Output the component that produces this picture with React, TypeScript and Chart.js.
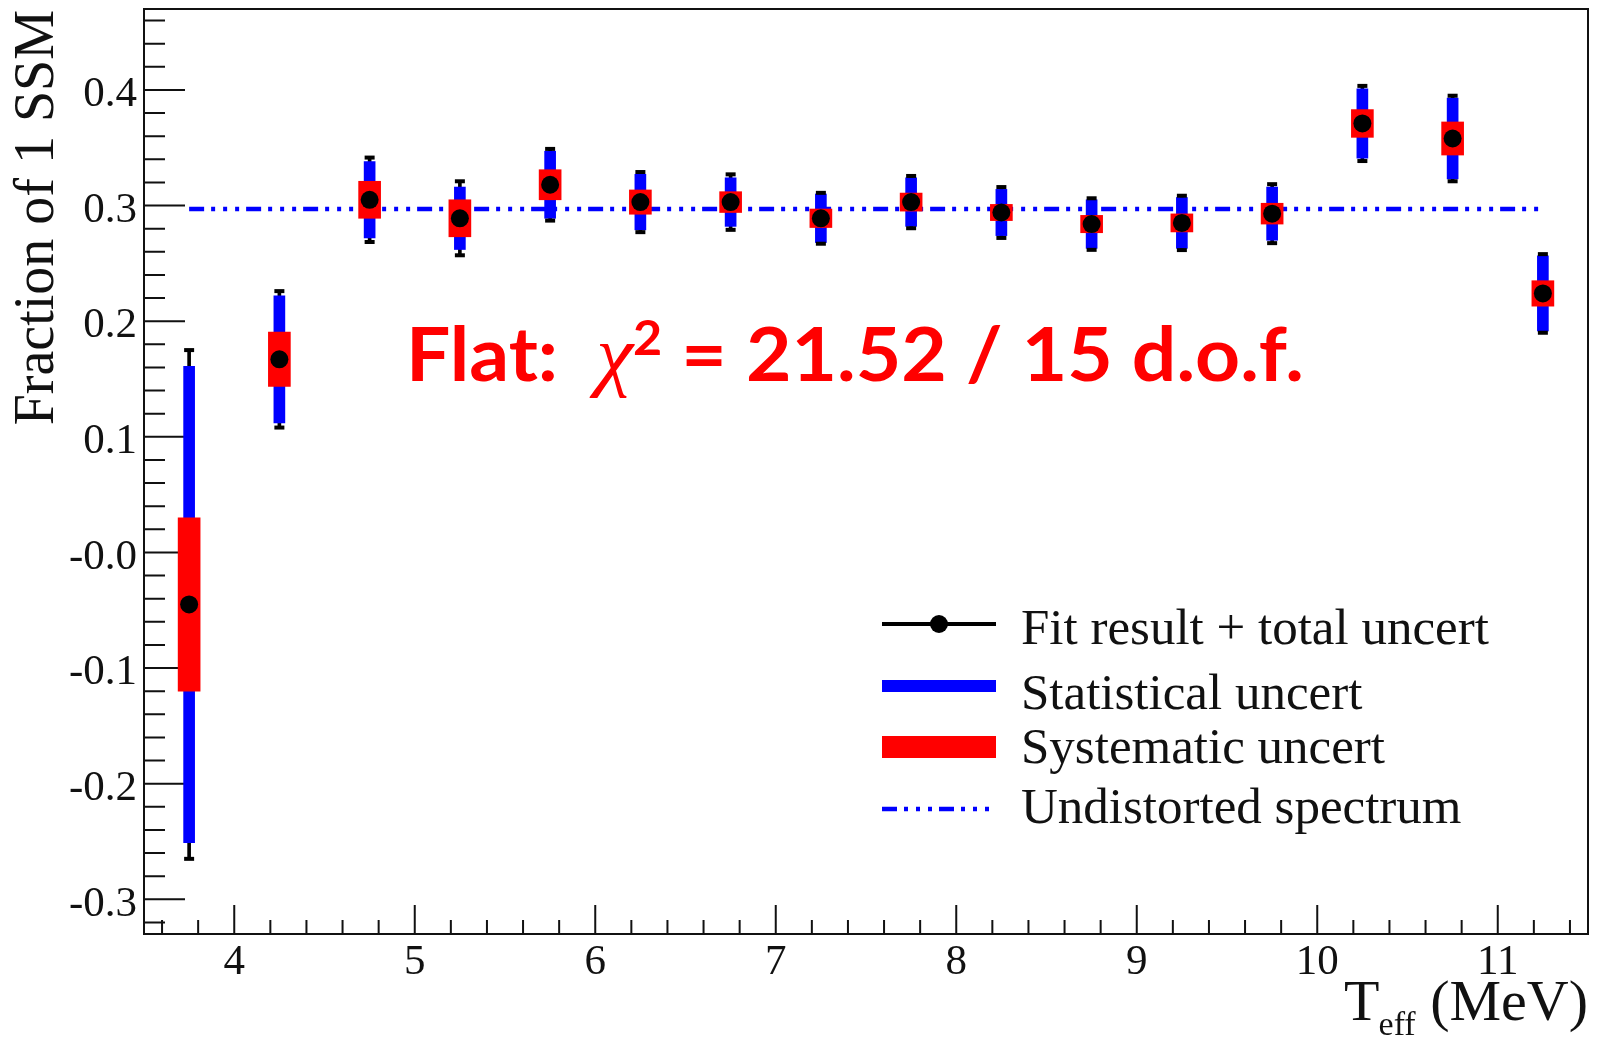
import React, { useEffect, useRef } from "react";
import { Chart, registerables } from "chart.js";

Chart.register(...registerables);

// ---- data ----
const energyBins = [3.75, 4.25, 4.75, 5.25, 5.75, 6.25, 6.75, 7.25, 7.75, 8.25, 8.75, 9.25, 9.75, 10.25, 10.75, 11.25];
const fitResult = [-0.045, 0.167, 0.305, 0.289, 0.318, 0.303, 0.303, 0.289, 0.303, 0.294, 0.284, 0.285, 0.293, 0.371, 0.358, 0.224];
const statUncert = [0.206, 0.055, 0.033, 0.027, 0.029, 0.024, 0.021, 0.021, 0.021, 0.020, 0.021, 0.022, 0.023, 0.030, 0.035, 0.0325];
const sysUncert = [0.075, 0.0235, 0.016, 0.016, 0.013, 0.0105, 0.009, 0.008, 0.0078, 0.007, 0.0075, 0.0078, 0.009, 0.012, 0.0143, 0.011];
const totalUncert = [0.22, 0.059, 0.0365, 0.032, 0.031, 0.026, 0.024, 0.022, 0.0226, 0.022, 0.0223, 0.0235, 0.0255, 0.0325, 0.037, 0.034];
const undistortedLevel = 0.297;
const undistortedRange = [3.75, 11.25];

const xTickValues = [4, 5, 6, 7, 8, 9, 10, 11];
const xTickLabels = ["4", "5", "6", "7", "8", "9", "10", "11"];
const yTickValues = [-0.3, -0.2, -0.1, 0, 0.1, 0.2, 0.3, 0.4];
const yTickLabels = ["-0.3", "-0.2", "-0.1", "-0.0", "0.1", "0.2", "0.3", "0.4"];

const yTitle = "Fraction of 1 SSM";
const xTitleMain = "T";
const xTitleSub = "eff";
const xTitleUnit = "(MeV)";
const legendLabels = ["Fit result + total uncert", "Statistical uncert", "Systematic uncert", "Undistorted spectrum"];
const annotationParts = ["Flat:", "\u03C7", "2", " = 21.52 / 15 d.o.f."];

const BLUE = "#0000ff";
const RED = "#ff0000";
const DASH = [15, 7, 4, 8, 4, 8, 4, 7];
const SERIF = '"Liberation Serif", "Times New Roman", serif';

const framePlugin = {
  id: "rootFrame",
  beforeDatasetsDraw(chart: any) {
    const { ctx, chartArea: a, scales } = chart;
    const x = scales.x;
    const y = scales.y;
    ctx.save();
    ctx.strokeStyle = "#111";
    ctx.lineWidth = 2;
    ctx.beginPath();
    for (let i = -16; i <= 23; i++) {
      const py = y.getPixelForValue(i * 0.02);
      if (py < a.top || py > a.bottom) continue;
      const major = i % 5 === 0;
      ctx.moveTo(a.left, py);
      ctx.lineTo(a.left + (major ? 41 : 21), py);
    }
    for (let i = 18; i <= 57; i++) {
      const px = x.getPixelForValue(i * 0.2);
      if (px < a.left || px > a.right) continue;
      const major = i % 5 === 0;
      ctx.moveTo(px, a.bottom);
      ctx.lineTo(px, a.bottom - (major ? 29 : 14));
    }
    ctx.stroke();
    ctx.strokeRect(a.left, a.top, a.right - a.left, a.bottom - a.top);
    ctx.restore();
  },
  afterDraw(chart: any) {
    const { ctx, chartArea: a } = chart;
    ctx.save();
    ctx.fillStyle = "#111";
    // y title
    ctx.save();
    ctx.font = `56px ${SERIF}`;
    ctx.translate(53, 10);
    ctx.rotate(-Math.PI / 2);
    ctx.textAlign = "right";
    ctx.textBaseline = "alphabetic";
    ctx.fillText(yTitle, 0, 0);
    ctx.restore();

    // x title
    ctx.textBaseline = "alphabetic";
    ctx.textAlign = "left";
    ctx.font = `58px ${SERIF}`;
    const wUnit = ctx.measureText(xTitleUnit).width;
    const xUnit = a.right - wUnit;
    ctx.fillText(xTitleUnit, xUnit, 1020);
    const wSpace = ctx.measureText(" ").width;
    ctx.font = `34px ${SERIF}`;
    const wSub = ctx.measureText(xTitleSub).width;
    const xSub = xUnit - wSpace - wSub;
    ctx.fillText(xTitleSub, xSub, 1035);
    ctx.font = `58px ${SERIF}`;
    const wT = ctx.measureText(xTitleMain).width;
    ctx.fillText(xTitleMain, xSub - wT + 1, 1020);

    // legend
    const symX0 = 882;
    const symX1 = 996;
    const rowY = [624, 686, 747, 809];
    const textY = [644, 709, 763, 823];
    ctx.strokeStyle = "#000";
    ctx.lineWidth = 4;
    ctx.beginPath();
    ctx.moveTo(symX0, rowY[0]);
    ctx.lineTo(symX1, rowY[0]);
    ctx.stroke();
    ctx.fillStyle = "#000";
    ctx.beginPath();
    ctx.arc((symX0 + symX1) / 2, rowY[0], 9, 0, Math.PI * 2);
    ctx.fill();
    ctx.fillStyle = BLUE;
    ctx.fillRect(symX0, rowY[1] - 6, symX1 - symX0, 12);
    ctx.fillStyle = RED;
    ctx.fillRect(symX0, rowY[2] - 11, symX1 - symX0, 22);
    ctx.strokeStyle = BLUE;
    ctx.lineWidth = 4.5;
    ctx.setLineDash(DASH);
    ctx.beginPath();
    ctx.moveTo(symX0, rowY[3]);
    ctx.lineTo(symX1 - 6, rowY[3]);
    ctx.stroke();
    ctx.setLineDash([]);
    ctx.fillStyle = "#111";
    ctx.font = `51px ${SERIF}`;
    legendLabels.forEach((t, i) => ctx.fillText(t, 1021, textY[i]));

    // annotation
    const mainFont = '700 75px Lato, "Open Sans", sans-serif';
    const chiFont = `italic 80px ${SERIF}`;
    const supFont = '700 48px Lato, "Open Sans", sans-serif';
    ctx.font = mainFont;
    const w0 = ctx.measureText(annotationParts[0] + "  ").width;
    const w3 = ctx.measureText(annotationParts[3]).width;
    ctx.font = chiFont;
    const w1 = ctx.measureText(annotationParts[1]).width;
    ctx.font = supFont;
    const w2 = ctx.measureText(annotationParts[2]).width;
    const total = w0 + w1 + w2 + w3;
    const s = (1304 - 406) / total;
    ctx.translate(406, 381);
    ctx.scale(s, 1);
    ctx.fillStyle = RED;
    let cx = 0;
    ctx.font = mainFont;
    ctx.fillText(annotationParts[0], cx, 0);
    cx += w0;
    ctx.font = chiFont;
    ctx.fillText(annotationParts[1], cx, 0);
    cx += w1;
    ctx.font = supFont;
    ctx.fillText(annotationParts[2], cx, -26);
    cx += w2;
    ctx.font = mainFont;
    ctx.fillText(annotationParts[3], cx, 0);
    ctx.restore();
  },
};

export default function App() {
  const canvasRef = useRef<HTMLCanvasElement | null>(null);

  useEffect(() => {
    document.body.style.margin = "0";
    const canvas = canvasRef.current;
    if (!canvas) return;

    const statData = energyBins.map((x, i) => ({ x, y: [fitResult[i] - statUncert[i], fitResult[i] + statUncert[i]] }));
    const sysData = energyBins.map((x, i) => ({ x, y: [fitResult[i] - sysUncert[i], fitResult[i] + sysUncert[i]] }));
    const totData = energyBins.map((x, i) => ({ x, y: [fitResult[i] - totalUncert[i], fitResult[i] + totalUncert[i]] }));
    const capData = [
      ...energyBins.map((x, i) => ({ x, y: fitResult[i] - totalUncert[i] })),
      ...energyBins.map((x, i) => ({ x, y: fitResult[i] + totalUncert[i] })),
    ];
    const pointData = energyBins.map((x, i) => ({ x, y: fitResult[i] }));
    const lineData = undistortedRange.map((x) => ({ x, y: undistortedLevel }));

    const tickFont = { family: SERIF, size: 43 };

    const chart = new Chart(canvas, {
      type: "bar",
      data: {
        datasets: [
          {
            type: "line",
            label: "Undistorted spectrum",
            data: lineData,
            borderColor: BLUE,
            borderWidth: 4.5,
            borderDash: DASH,
            pointRadius: 0,
            fill: false,
            order: 6,
          } as any,
          {
            type: "bar",
            label: "total",
            data: totData,
            backgroundColor: "#000",
            barThickness: 3,
            grouped: false,
            order: 5,
          } as any,
          {
            type: "bar",
            label: "Statistical uncert",
            data: statData,
            backgroundColor: BLUE,
            barThickness: 11,
            grouped: false,
            order: 4,
          } as any,
          {
            type: "bar",
            label: "Systematic uncert",
            data: sysData,
            backgroundColor: RED,
            barThickness: 22,
            grouped: false,
            order: 3,
          } as any,
          {
            type: "scatter",
            label: "caps",
            data: capData,
            pointStyle: "line",
            pointRadius: 5,
            pointBorderColor: "#000",
            pointBorderWidth: 4,
            showLine: false,
            order: 2,
          } as any,
          {
            type: "scatter",
            label: "Fit result",
            data: pointData,
            pointRadius: 9,
            pointBackgroundColor: "#000",
            pointBorderWidth: 0,
            showLine: false,
            order: 1,
          } as any,
        ],
      },
      options: {
        animation: false,
        responsive: false,
        devicePixelRatio: 1,
        events: [],
        layout: { padding: { left: 0, right: 11, top: 9, bottom: 0 } },
        plugins: {
          legend: { display: false },
          tooltip: { enabled: false },
          title: { display: false },
        },
        scales: {
          x: {
            type: "linear",
            min: 3.5,
            max: 11.5,
            offset: false,
            grid: { display: false, drawTicks: false, offset: false },
            border: { display: false },
            afterBuildTicks: (s: any) => {
              s.ticks = xTickValues.map((v) => ({ value: v }));
            },
            afterFit: (s: any) => {
              s.height = 106;
              s.paddingLeft = 0;
              s.paddingRight = 0;
            },
            ticks: {
              autoSkip: false,
              maxRotation: 0,
              minRotation: 0,
              padding: 3,
              color: "#111",
              font: tickFont,
              callback: (_v: any, i: number) => xTickLabels[i],
            },
          },
          y: {
            type: "linear",
            min: -0.33,
            max: 0.47,
            beginAtZero: false,
            grid: { display: false, drawTicks: false },
            border: { display: false },
            afterBuildTicks: (s: any) => {
              s.ticks = yTickValues.map((v) => ({ value: v }));
            },
            afterFit: (s: any) => {
              s.width = 144;
              s.paddingTop = 0;
              s.paddingBottom = 0;
            },
            ticks: {
              autoSkip: false,
              padding: 7,
              labelOffset: 5,
              color: "#111",
              font: tickFont,
              callback: (_v: any, i: number) => yTickLabels[i],
            },
          },
        },
      } as any,
      plugins: [framePlugin],
    });

    return () => chart.destroy();
  }, []);

  return (
    <div style={{ width: 1599, height: 1040, position: "relative", background: "#fff" }}>
      <canvas ref={canvasRef} width={1599} height={1040} style={{ display: "block", width: 1599, height: 1040 }} />
    </div>
  );
}
